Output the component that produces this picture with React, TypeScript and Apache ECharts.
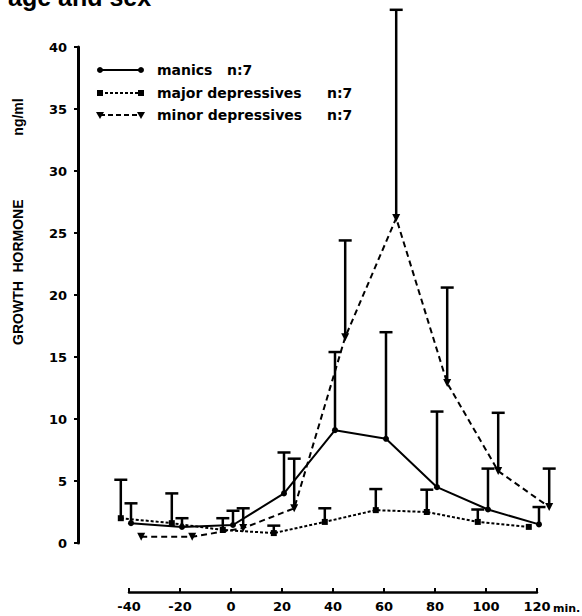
import React, { useEffect, useRef } from "react";
import * as echarts from "echarts";

// Time (min) of each sampling point, per group (groups are staggered on the plot)
const manicsTime = [-40, -20, 0, 20, 40, 60, 80, 100, 120];
const manicsMean = [1.6, 1.3, 1.45, 4.0, 9.1, 8.4, 4.5, 2.7, 1.5];
const manicsUpper = [3.2, 2.0, 2.6, 7.3, 15.4, 17.0, 10.6, 6.0, 2.9];

const majorTime = [-44, -24, -4, 16, 36, 56, 76, 96, 116];
const majorMean = [2.0, 1.6, 1.05, 0.8, 1.7, 2.65, 2.5, 1.7, 1.3];
const majorUpper = [5.1, 4.0, 2.0, 1.4, 2.8, 4.35, 4.3, 2.7, 1.3];

const minorTime = [-36, -16, 4, 24, 44, 64, 84, 104, 124];
const minorMean = [0.5, 0.5, 1.2, 2.8, 16.6, 26.2, 12.9, 5.8, 2.9];
const minorUpper = [0.5, 0.5, 2.8, 6.8, 24.4, 43.0, 20.6, 10.5, 6.0];

const xTicks = [-40, -20, 0, 20, 40, 60, 80, 100, 120];
const yTicks = [0, 5, 10, 15, 20, 25, 30, 35, 40];

const FONT = "DejaVu Sans";

function pairs(t: number[], v: number[]) {
  return t.map((x, i) => [x, v[i]]);
}
function errData(t: number[], m: number[], u: number[]) {
  return t.map((x, i) => [x, m[i], u[i]]);
}

function errSeries(name: string, data: number[][]) {
  return {
    name,
    type: "custom",
    xAxisIndex: 0,
    yAxisIndex: 0,
    clip: false,
    z: 1,
    data,
    renderItem: (params: any, api: any) => {
      const x = api.value(0);
      const lo = api.coord([x, api.value(1)]);
      const hi = api.coord([x, api.value(2)]);
      if (Math.abs(lo[1] - hi[1]) < 0.5) return { type: "group", children: [] };
      const style = { stroke: "#000", lineWidth: 2.5 };
      return {
        type: "group",
        children: [
          { type: "line", shape: { x1: lo[0], y1: lo[1], x2: hi[0], y2: hi[1] }, style },
          { type: "line", shape: { x1: hi[0] - 6.5, y1: hi[1], x2: hi[0] + 6.5, y2: hi[1] }, style },
        ],
      };
    },
  };
}

export default function App() {
  const ref = useRef<HTMLDivElement>(null);
  useEffect(() => {
    if (!ref.current) return;
    const chart = echarts.init(ref.current, null, { renderer: "svg" });
    const labelStyle = { fontFamily: FONT, fontWeight: "bold", fontSize: 13, color: "#000" };
    const legendText = (x: number, y: number, text: string) => ({
      type: "text",
      x,
      y,
      style: { text, fontFamily: FONT, fontWeight: "bold", fontSize: 14, fill: "#000", verticalAlign: "middle" },
    });
    const tri = (x: number, y: number) => ({
      type: "polygon",
      shape: { points: [[x - 4, y - 3], [x + 4, y - 3], [x, y + 4]] },
      style: { fill: "#000" },
    });
    chart.setOption({
      animation: false,
      backgroundColor: "#fff",
      grid: [
        { left: 105.5, right: 17.5, top: 47, bottom: 73, outerBoundsMode: "none" },
        { left: 129, width: 408, top: 591, height: 1, outerBoundsMode: "none" },
      ],
      xAxis: [
        { type: "value", gridIndex: 0, min: -50, max: 130, show: false },
        {
          type: "value",
          gridIndex: 1,
          min: -40,
          max: 120,
          interval: 20,
          axisLine: { show: true, onZero: false, lineStyle: { color: "#000", width: 2.5 } },
          axisTick: { show: true, inside: true, length: 4, lineStyle: { color: "#000", width: 2 } },
          splitLine: { show: false },
          axisLabel: { ...labelStyle, margin: 8, customValues: xTicks },
        },
      ],
      yAxis: [
        {
          type: "value",
          gridIndex: 0,
          min: 0,
          max: 40,
          interval: 5,
          offset: 27.5,
          axisLine: { show: true, onZero: false, lineStyle: { color: "#000", width: 3 } },
          axisTick: { show: true, length: 4, lineStyle: { color: "#000", width: 2 } },
          splitLine: { show: false },
          axisLabel: { ...labelStyle, margin: 11, customValues: yTicks },
        },
        { type: "value", gridIndex: 1, show: false },
      ],
      graphic: [
        {
          type: "text",
          x: 8,
          y: -3,
          style: { text: "age and sex", fontFamily: "Liberation Sans", fontWeight: "bold", fontSize: 25, fill: "#000", verticalAlign: "middle" },
        },
        {
          type: "text",
          x: 553,
          y: 608,
          style: { text: "min.", fontFamily: FONT, fontWeight: "bold", fontSize: 11, fill: "#000", verticalAlign: "middle" },
        },
        // y axis title
        ...[
          ["GROWTH", 313],
          ["HORMONE", 236],
          ["ng/ml", 117],
        ].map(([t, y]) => ({
          type: "text",
          x: 18,
          y: y as number,
          rotation: Math.PI / 2,
          style: { text: t as string, fontFamily: "Liberation Sans", fontWeight: "bold", fontSize: 14, fill: "#000", align: "center", verticalAlign: "middle" },
        })),
        // legend row 1
        { type: "line", shape: { x1: 100, y1: 70, x2: 141, y2: 70 }, style: { stroke: "#000", lineWidth: 2 } },
        { type: "circle", shape: { cx: 100, cy: 70, r: 3 }, style: { fill: "#000" } },
        { type: "circle", shape: { cx: 141, cy: 70, r: 3 }, style: { fill: "#000" } },
        legendText(157, 70, "manics"),
        legendText(227, 70, "n:7"),
        // legend row 2
        { type: "line", shape: { x1: 100, y1: 93, x2: 141, y2: 93 }, style: { stroke: "#000", lineWidth: 2, lineDash: [3, 2] } },
        { type: "rect", shape: { x: 97, y: 90, width: 6, height: 6 }, style: { fill: "#000" } },
        { type: "rect", shape: { x: 138, y: 90, width: 6, height: 6 }, style: { fill: "#000" } },
        legendText(157, 93, "major depressives"),
        legendText(327, 93, "n:7"),
        // legend row 3
        { type: "line", shape: { x1: 100, y1: 115, x2: 141, y2: 115 }, style: { stroke: "#000", lineWidth: 2, lineDash: [5, 3] } },
        tri(100, 115),
        tri(141, 115),
        legendText(157, 115, "minor depressives"),
        legendText(327, 115, "n:7"),
      ],
      series: [
        errSeries("manics err", errData(manicsTime, manicsMean, manicsUpper)),
        errSeries("major err", errData(majorTime, majorMean, majorUpper)),
        errSeries("minor err", errData(minorTime, minorMean, minorUpper)),
        {
          name: "manics",
          type: "line",
          xAxisIndex: 0,
          yAxisIndex: 0,
          data: pairs(manicsTime, manicsMean),
          symbol: "circle",
          symbolSize: 6,
          itemStyle: { color: "#000" },
          lineStyle: { color: "#000", width: 2, type: "solid" },
          clip: false,
          z: 3,
        },
        {
          name: "major depressives",
          type: "line",
          xAxisIndex: 0,
          yAxisIndex: 0,
          data: pairs(majorTime, majorMean),
          symbol: "rect",
          symbolSize: 6,
          itemStyle: { color: "#000" },
          lineStyle: { color: "#000", width: 2, type: [3, 2] },
          clip: false,
          z: 3,
        },
        {
          name: "minor depressives",
          type: "line",
          xAxisIndex: 0,
          yAxisIndex: 0,
          data: pairs(minorTime, minorMean),
          symbol: "triangle",
          symbolRotate: 180,
          symbolSize: 8,
          itemStyle: { color: "#000" },
          lineStyle: { color: "#000", width: 2, type: [6, 4] },
          clip: false,
          z: 3,
        },
      ],
    });
    return () => chart.dispose();
  }, []);
  return <div ref={ref} style={{ width: 582, height: 616, position: "fixed", left: 0, top: 0 }} />;
}
